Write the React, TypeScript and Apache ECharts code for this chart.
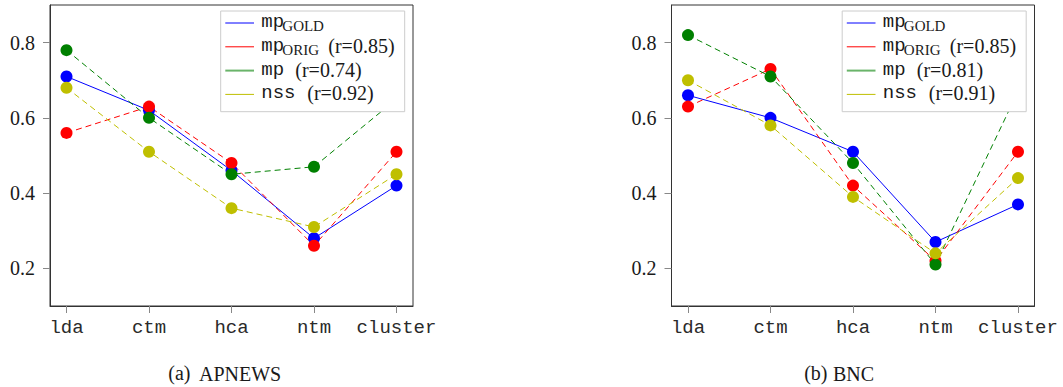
import React, { useEffect, useRef } from "react";
import * as echarts from "echarts";

const CATEGORIES = ["lda", "ctm", "hca", "ntm", "cluster"];
const Y_TICKS = [0.2, 0.4, 0.6, 0.8];
const X_TICKS = [0, 1, 2, 3, 4];

const APNEWS_GOLD = [0.71, 0.62, 0.46, 0.28, 0.42];
const APNEWS_ORIG = [0.56, 0.63, 0.48, 0.26, 0.51];
const APNEWS_MP = [0.78, 0.6, 0.45, 0.47, 0.65];
const APNEWS_NSS = [0.68, 0.51, 0.36, 0.31, 0.45];
const APNEWS_R = ["0.85", "0.74", "0.92"];

const BNC_GOLD = [0.66, 0.6, 0.51, 0.27, 0.37];
const BNC_ORIG = [0.63, 0.73, 0.42, 0.22, 0.51];
const BNC_MP = [0.82, 0.71, 0.48, 0.21, 0.67];
const BNC_NSS = [0.7, 0.58, 0.39, 0.24, 0.44];
const BNC_R = ["0.85", "0.81", "0.91"];

const SERIF = "Liberation Serif";
const MONO = "Liberation Mono";

const COLORS = { gold: "#0000ff", orig: "#ff0000", mp: "#008000", nss: "#bfbf00" };
const LEGEND_LINE = { gold: "#0000ff", orig: "#ff0000", mp: "#6ab46a", nss: "#bfbf00" };

const PANEL_DX = 621.5;

function txt(text: string, x: number, y: number, font: string, size: number, align = "left", color = "#1a1a1a") {
  return {
    type: "text",
    z: 101,
    silent: true,
    style: {
      text,
      x,
      y,
      fontFamily: font,
      fontSize: size,
      fill: color,
      align,
      verticalAlign: "middle",
      textAlign: align,
      textVerticalAlign: "middle",
    },
  };
}

function legendGraphics(dx: number, r: string[]) {
  const boxX = 220.7 + dx;
  const lx1 = 225.3 + dx;
  const lx2 = 254 + dx;
  const tx = 261.3 + dx;
  const rows = [23, 46.8, 70.6, 94.4];
  const els: any[] = [
    {
      type: "rect",
      z: 100,
      silent: true,
      shape: { x: boxX, y: 11, width: 184, height: 100.7 },
      style: { fill: "#ffffff", stroke: "#cccccc", lineWidth: 1 },
    },
  ];
  const keys = ["gold", "orig", "mp", "nss"];
  keys.forEach((k, i) => {
    els.push({
      type: "line",
      z: 101,
      silent: true,
      shape: { x1: lx1, y1: rows[i], x2: lx2, y2: rows[i] },
      style: { stroke: (LEGEND_LINE as any)[k], lineWidth: k === "mp" ? 2 : 1 },
    });
  });
  const ty = rows.map((y) => y - 1);
  els.push(txt("mp", tx, ty[0], MONO, 19));
  els.push(txt("GOLD", tx + 21, ty[0] + 4, SERIF, 15));
  els.push(txt("mp", tx, ty[1], MONO, 19));
  els.push(txt("ORIG", tx + 21, ty[1] + 4, SERIF, 15));
  els.push(txt("(r=" + r[0] + ")", tx + 67, ty[1], SERIF, 20));
  els.push(txt("mp", tx, ty[2], MONO, 19));
  els.push(txt("(r=" + r[1] + ")", tx + 34, ty[2], SERIF, 20));
  els.push(txt("nss", tx, ty[3], MONO, 19));
  els.push(txt("(r=" + r[2] + ")", tx + 46, ty[3], SERIF, 20));
  return els;
}

function makeSeries(idx: number, gold: number[], orig: number[], mp: number[], nss: number[]) {
  const list: [string, number[]][] = [
    ["gold", gold],
    ["orig", orig],
    ["mp", mp],
    ["nss", nss],
  ];
  return list.map(([k, vals]) => ({
    type: "line",
    xAxisIndex: idx,
    yAxisIndex: idx,
    data: vals.map((v, i) => [X_TICKS[i], v]),
    symbol: "circle",
    symbolSize: 12,
    showSymbol: true,
    clip: true,
    silent: true,
    emphasis: { disabled: true },
    itemStyle: { color: (COLORS as any)[k] },
    lineStyle: { color: (COLORS as any)[k], width: 1, type: k === "gold" ? "solid" : [6, 4] },
  }));
}

function xAxis(idx: number) {
  return {
    type: "value",
    gridIndex: idx,
    min: -0.2,
    max: 4.2,
    axisLine: { show: true, onZero: false, lineStyle: { color: "#333333", width: 1 } },
    splitLine: { show: false },
    axisTick: { show: true, inside: false, length: 7, lineStyle: { color: "#888888", width: 1 }, customValues: X_TICKS },
    axisLabel: {
      customValues: X_TICKS,
      formatter: (v: number) => CATEGORIES[Math.round(v)] ?? "",
      fontFamily: MONO,
      fontSize: 19,
      color: "#2a2a2a",
      margin: 12,
    },
  };
}

function yAxis(idx: number) {
  return {
    type: "value",
    gridIndex: idx,
    min: 0.1,
    max: 0.9,
    axisLine: { show: true, onZero: false, lineStyle: { color: "#333333", width: 1 } },
    splitLine: { show: false },
    axisTick: { show: true, inside: false, length: 7, lineStyle: { color: "#888888", width: 1 }, customValues: Y_TICKS },
    axisLabel: {
      customValues: Y_TICKS,
      formatter: (v: number) => v.toFixed(1),
      fontFamily: SERIF,
      fontSize: 20,
      color: "#1a1a1a",
      margin: 15,
    },
  };
}

export default function App() {
  const ref = useRef<HTMLDivElement>(null);
  useEffect(() => {
    if (!ref.current) return;
    const chart = echarts.init(ref.current, undefined, { renderer: "svg" });
    const grid = (left: number) => ({
      left,
      top: 5,
      width: 363,
      height: 301,
      show: true,
      borderColor: "#333333",
      borderWidth: 1,
      backgroundColor: "transparent",
    });
    const graphics: any[] = [
      ...legendGraphics(0, APNEWS_R),
      ...legendGraphics(PANEL_DX, BNC_R),
      txt("(a)", 190.5, 372.5, SERIF, 20, "right"),
      txt("APNEWS", 199, 373.5, SERIF, 20, "left"),
      txt("(b)", 827.5, 372.5, SERIF, 20, "right"),
      txt("BNC", 833, 373.5, SERIF, 20, "left"),
    ];
    chart.setOption({
      animation: false,
      backgroundColor: "#ffffff",
      textStyle: { fontFamily: SERIF },
      grid: [grid(50), grid(50 + PANEL_DX)],
      xAxis: [xAxis(0), xAxis(1)],
      yAxis: [yAxis(0), yAxis(1)],
      series: [
        ...makeSeries(0, APNEWS_GOLD, APNEWS_ORIG, APNEWS_MP, APNEWS_NSS),
        ...makeSeries(1, BNC_GOLD, BNC_ORIG, BNC_MP, BNC_NSS),
      ],
      graphic: { elements: graphics },
    });
    return () => chart.dispose();
  }, []);
  return <div ref={ref} style={{ position: "absolute", left: 0, top: 0, width: 1063, height: 387 }} />;
}
